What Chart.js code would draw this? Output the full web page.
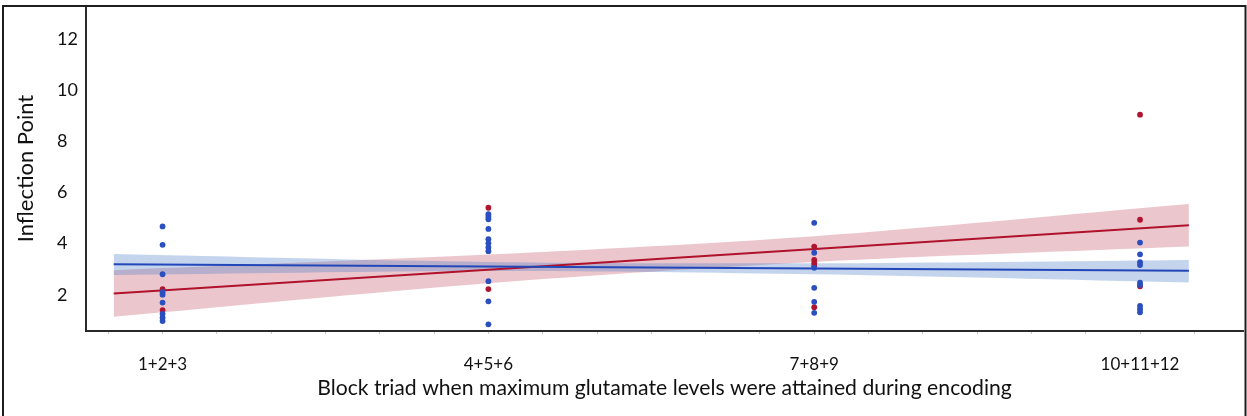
<!DOCTYPE html>
<html>
<head>
<meta charset="utf-8">
<script src="https://cdn.jsdelivr.net/npm/chart.js@4.4.1/dist/chart.umd.min.js"></script>
<style>
  html, body { margin: 0; padding: 0; background: #ffffff; }
  #wrap { position: relative; width: 1247px; height: 416px; }
</style>
</head>
<body>
<div id="wrap"><canvas id="c" width="1247" height="416"></canvas></div>
<script>
// ---- data ----
const categories = ['1+2+3', '4+5+6', '7+8+9', '10+11+12'];
const yTickValues = [2, 4, 6, 8, 10, 12];

// individual points (Inflection Point) per block triad
const blue1 = [4.67, 3.95, 2.80, 2.10, 2.00, 1.69, 1.25, 1.10, 0.97];
const red1  = [2.22, 1.40];
const blue2 = [5.15, 5.05, 4.95, 4.57, 4.17, 4.01, 3.85, 3.70, 2.53, 1.74, 0.84];
const red2  = [5.40, 2.22];
const blue3 = [4.81, 3.64, 3.05, 2.27, 1.72, 1.29];
const red3  = [3.88, 3.36, 3.23, 3.12, 1.51];
const blue4 = [4.04, 3.58, 3.27, 3.16, 2.47, 2.38, 1.56, 1.43, 1.31];
const red4  = [9.04, 4.93, 2.33];

// regression lines (ends) and confidence bands
const fitX      = [-0.15, 3.15];
const redFit    = [2.05, 4.72];
const blueFit   = [3.19, 2.94];
const bandX     = [-0.15, 1, 2, 3.15];
const redUpper  = [2.96, 3.57, 4.29, 5.55];
const redLower  = [1.14, 2.45, 3.28, 3.88];
const blueUpper = [3.59, 3.28, 3.23, 3.36];
const blueLower = [2.77, 2.93, 2.80, 2.48];

// ---- build library data ----
const blueGroups = [blue1, blue2, blue3, blue4];
const redGroups  = [red1, red2, red3, red4];
const toPts = groups => groups.flatMap((arr, i) => arr.map(v => ({ x: i, y: v })));
const pair = (xs, ys) => xs.map((x, i) => ({ x: x, y: ys[i] }));

const RED = '#b01530';
const BLUE = '#2b4fbe';
const FONT = 'Lato, "Open Sans", sans-serif';

const framePlugin = {
  id: 'frame',
  afterDraw(chart) {
    const ctx = chart.ctx;
    ctx.save();
    ctx.strokeStyle = '#1e1e1e';
    ctx.lineWidth = 2;
    ctx.beginPath();
    ctx.moveTo(3, 416);
    ctx.lineTo(3, 6);
    ctx.lineTo(1245.5, 6);
    ctx.lineTo(1245.5, 416);
    ctx.stroke();
    ctx.restore();
  }
};

new Chart(document.getElementById('c'), {
  type: 'scatter',
  data: {
    datasets: [
      { label: 'blue', data: toPts(blueGroups), backgroundColor: BLUE, borderColor: BLUE, pointRadius: 2.9, borderWidth: 0 },
      { label: 'red', data: toPts(redGroups), backgroundColor: RED, borderColor: RED, pointRadius: 2.9, borderWidth: 0 },
      { label: 'blueFit', data: pair(fitX, blueFit), showLine: true, borderColor: '#2347b8', borderWidth: 2, pointRadius: 0, fill: false },
      { label: 'redFit', data: pair(fitX, redFit), showLine: true, borderColor: '#b0122c', borderWidth: 2, pointRadius: 0, fill: false },
      { label: 'blueUpper', data: pair(bandX, blueUpper), showLine: true, borderWidth: 0, borderColor: 'rgba(0,0,0,0)', pointRadius: 0, tension: 0.3, fill: '+1', backgroundColor: 'rgba(70,120,200,0.32)' },
      { label: 'blueLower', data: pair(bandX, blueLower), showLine: true, borderWidth: 0, borderColor: 'rgba(0,0,0,0)', pointRadius: 0, tension: 0.3, fill: false },
      { label: 'redUpper', data: pair(bandX, redUpper), showLine: true, borderWidth: 0, borderColor: 'rgba(0,0,0,0)', pointRadius: 0, tension: 0.3, fill: '+1', backgroundColor: 'rgba(190,70,90,0.30)' },
      { label: 'redLower', data: pair(bandX, redLower), showLine: true, borderWidth: 0, borderColor: 'rgba(0,0,0,0)', pointRadius: 0, tension: 0.3, fill: false }
    ]
  },
  options: {
    responsive: false,
    animation: false,
    devicePixelRatio: 1,
    layout: { padding: { left: 57, top: 6, right: 1, bottom: 0 } },
    plugins: { legend: { display: false }, tooltip: { enabled: false } },
    scales: {
      x: {
        type: 'linear',
        min: -0.235,
        max: 3.316,
        afterFit(scale) { scale.height = 85; scale.paddingLeft = 0; scale.paddingRight = 0; },
        afterBuildTicks(scale) {
          const t = [];
          for (let k = -1; k <= 19; k++) t.push({ value: k / 6 });
          scale.ticks = t;
        },
        ticks: {
          autoSkip: false,
          maxRotation: 0,
          padding: 20,
          color: '#111111',
          font: { family: FONT, size: 17 },
          callback(v) {
            const r = Math.round(v);
            return Math.abs(v - r) < 1e-6 && r >= 0 && r < categories.length ? categories[r] : '';
          }
        },
        grid: { drawOnChartArea: false, drawTicks: true, tickLength: 3, color: '#c8c8c8' },
        border: { display: true, color: '#2a2a2a', width: 2 },
        title: {
          display: true,
          text: 'Block triad when maximum glutamate levels were attained during encoding',
          color: '#111111',
          font: { family: FONT, size: 21.2 },
          padding: { top: 0, bottom: 15 }
        }
      },
      y: {
        type: 'linear',
        min: 0.58,
        max: 13.29,
        afterFit(scale) { scale.width = 29; scale.paddingTop = 0; scale.paddingBottom = 0; },
        afterBuildTicks(scale) { scale.ticks = yTickValues.map(v => ({ value: v })); },
        ticks: {
          crossAlign: 'far',
          padding: 10,
          color: '#111111',
          font: { family: FONT, size: 18 }
        },
        grid: { drawOnChartArea: false, drawTicks: false },
        border: { display: true, color: '#2a2a2a', width: 2 },
        title: {
          display: true,
          text: 'Inflection Point',
          color: '#111111',
          font: { family: FONT, size: 22 },
          padding: { top: -44, bottom: 0 }
        }
      }
    }
  },
  plugins: [framePlugin]
});
</script>
</body>
</html>
